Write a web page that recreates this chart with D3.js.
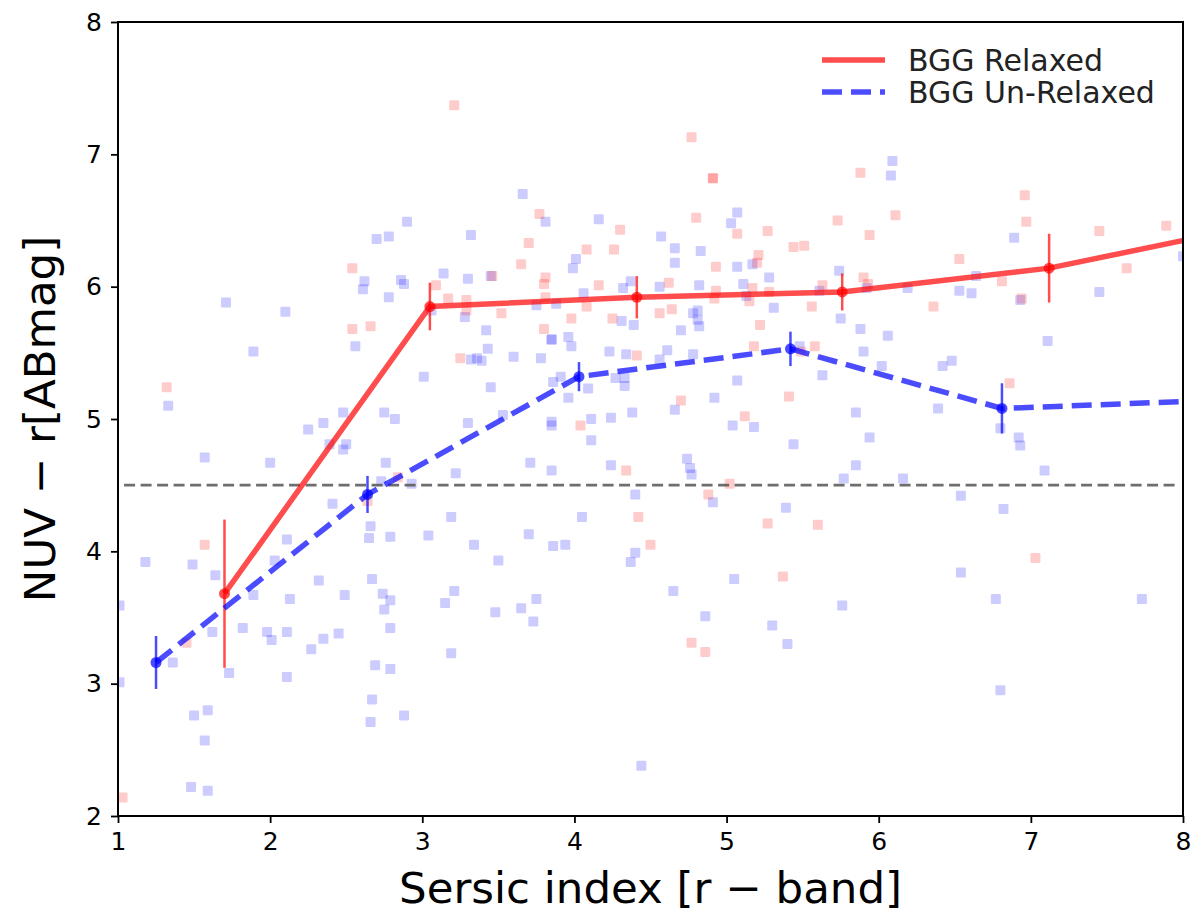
<!DOCTYPE html>
<html>
<head>
<meta charset="utf-8">
<script src="https://cdn.jsdelivr.net/npm/d3@7"></script>
<style>
  html, body { margin: 0; padding: 0; background: #fff; }
  svg { display: block; font-family: "DejaVu Sans", sans-serif; }
</style>
</head>
<body>
<svg id="chart" width="1195" height="917"></svg>
<script>
// --- data ---

// binned medians (Sersic index, NUV-r, error)
const relaxedX = [1.70, 3.05, 4.41, 5.76, 7.12, 8.47];
const relaxedY = [3.68, 5.85, 5.92, 5.96, 6.14, 6.46];
const relaxedErr = [0.56, 0.18, 0.16, 0.14, 0.26, 0.30];

const unrelaxedX = [1.25, 2.64, 4.03, 5.42, 6.81, 8.20];
const unrelaxedY = [3.16, 4.43, 5.32, 5.53, 5.08, 5.14];
const unrelaxedErr = [0.20, 0.14, 0.11, 0.13, 0.19, 0.20];

// individual galaxies [n, NUV-r]
const relaxedPts = [
  [2.54, 6.14], [2.54, 5.68], [2.66, 5.70], [3.21, 7.37], [3.77, 6.55], [4.30, 6.43],
  [3.70, 6.33], [4.08, 6.28], [4.26, 6.28], [3.65, 6.17], [3.46, 6.08], [3.81, 6.07],
  [3.80, 6.02], [3.09, 6.01], [4.16, 6.01], [3.17, 5.91], [3.29, 5.90], [3.81, 5.92],
  [4.08, 5.85], [3.29, 5.82], [3.52, 5.80], [3.98, 5.76], [4.25, 5.76], [4.56, 5.80],
  [3.80, 5.68], [4.77, 7.13], [4.91, 6.82], [4.91, 6.82], [5.88, 6.86], [4.80, 6.52],
  [5.73, 6.50], [6.11, 6.54], [5.07, 6.40], [5.27, 6.42], [5.94, 6.39], [5.44, 6.30],
  [5.51, 6.31], [5.21, 6.24], [5.20, 6.18], [4.93, 6.15], [4.62, 6.03], [4.93, 5.97],
  [5.17, 5.99], [5.28, 5.96], [4.92, 5.91], [5.15, 5.89], [5.63, 6.01], [5.90, 6.07],
  [5.93, 6.02], [4.64, 5.83], [5.56, 5.85], [5.22, 5.71], [6.36, 5.85], [6.96, 6.69],
  [6.97, 6.49], [7.45, 6.42], [7.89, 6.46], [6.53, 6.21], [6.81, 6.04], [7.63, 6.14],
  [6.94, 5.91], [1.32, 5.24], [2.64, 4.38], [1.57, 4.05], [1.45, 3.31], [1.03, 2.14],
  [3.25, 5.46], [4.41, 5.48], [4.04, 4.95], [4.34, 4.61], [2.84, 4.56], [4.42, 4.26],
  [4.50, 4.05], [5.18, 5.55], [5.58, 5.55], [5.49, 5.51], [4.70, 5.14], [5.41, 5.17],
  [5.12, 5.02], [5.02, 4.51], [4.88, 4.43], [5.27, 4.21], [5.60, 4.20], [5.37, 3.81],
  [4.77, 3.31], [4.86, 3.24], [6.86, 5.27], [7.03, 3.95]
];

const unrelaxedPts = [
  [1.71, 5.88], [2.10, 5.81], [2.70, 6.36], [2.78, 6.38], [2.62, 6.04], [2.61, 5.98],
  [2.78, 5.92], [3.66, 6.70], [3.81, 6.49], [4.16, 6.51], [2.90, 6.49], [3.32, 6.39],
  [4.01, 6.21], [3.99, 6.14], [3.14, 6.10], [3.30, 6.06], [3.45, 6.08], [2.86, 6.05],
  [2.88, 6.02], [4.37, 6.04], [4.32, 5.99], [4.56, 6.00], [4.06, 5.95], [3.75, 5.86],
  [3.88, 5.87], [3.06, 5.82], [3.28, 5.77], [4.31, 5.74], [4.39, 5.71], [3.42, 5.67],
  [3.85, 5.60], [3.96, 5.62], [6.09, 6.95], [6.08, 6.84], [5.07, 6.56], [5.03, 6.48],
  [4.57, 6.38], [4.66, 6.29], [4.83, 6.27], [4.66, 6.18], [5.17, 6.17], [5.07, 6.15],
  [5.74, 6.12], [5.28, 6.07], [4.82, 6.01], [5.11, 6.02], [5.13, 5.93], [5.61, 5.97],
  [5.92, 5.99], [6.19, 5.99], [4.81, 5.82], [4.78, 5.80], [4.81, 5.75], [4.82, 5.70],
  [5.31, 5.84], [5.75, 5.76], [4.70, 5.67], [5.88, 5.68], [6.06, 5.63], [6.89, 6.37],
  [6.64, 6.08], [6.53, 5.97], [6.61, 5.95], [7.45, 5.96], [6.93, 5.90], [7.11, 5.59],
  [8.00, 6.23], [1.89, 5.51], [1.33, 5.10], [2.56, 5.55], [1.57, 4.71], [2.00, 4.67],
  [2.25, 4.92], [2.35, 4.97], [2.48, 5.05], [2.39, 4.81], [2.50, 4.81], [2.48, 4.77],
  [2.75, 5.05], [2.76, 4.67], [2.41, 4.36], [2.66, 4.19], [2.65, 4.10], [2.79, 4.11],
  [2.11, 4.09], [1.18, 3.92], [1.49, 3.90], [1.64, 3.82], [2.03, 3.93], [2.32, 3.78],
  [2.67, 3.79], [2.73, 4.53], [1.89, 3.67], [2.13, 3.64], [2.49, 3.67], [2.74, 3.68],
  [2.75, 3.56], [2.79, 3.63], [2.79, 3.42], [1.01, 3.59], [1.62, 3.39], [1.82, 3.42],
  [1.98, 3.39], [2.01, 3.33], [2.11, 3.39], [2.27, 3.26], [2.35, 3.34], [2.45, 3.38],
  [1.36, 3.16], [1.73, 3.08], [2.11, 3.05], [2.69, 3.14], [2.79, 3.11], [1.01, 3.01],
  [1.50, 2.76], [1.59, 2.80], [1.57, 2.57], [2.67, 2.88], [2.66, 2.71], [1.48, 2.22],
  [1.59, 2.19], [3.21, 3.70], [3.15, 3.61], [3.48, 3.54], [3.65, 3.57], [3.75, 3.64],
  [3.73, 3.47], [3.19, 3.23], [2.88, 2.76], [4.44, 2.38], [3.85, 5.60], [3.98, 5.55],
  [3.32, 5.45], [3.36, 5.46], [3.39, 5.44], [3.43, 5.53], [3.60, 5.47], [3.78, 5.46],
  [4.23, 5.51], [4.34, 5.49], [4.56, 5.45], [3.01, 5.32], [3.45, 5.24], [3.86, 5.28],
  [3.91, 5.32], [3.96, 5.16], [4.09, 5.23], [4.27, 5.31], [4.33, 5.31], [4.33, 5.25],
  [2.82, 5.00], [3.30, 4.97], [3.53, 5.03], [3.85, 4.98], [3.85, 4.95], [4.11, 5.00],
  [4.24, 5.01], [4.38, 5.05], [4.11, 4.84], [3.22, 4.59], [3.71, 4.67], [3.85, 4.61],
  [4.24, 4.65], [2.93, 4.51], [4.40, 4.43], [3.19, 4.26], [4.05, 4.26], [3.04, 4.12],
  [3.70, 4.13], [3.34, 4.05], [3.86, 4.04], [3.94, 4.05], [4.40, 3.99], [4.37, 3.92],
  [3.50, 3.93], [4.61, 5.52], [4.78, 5.49], [5.48, 5.55], [5.90, 5.51], [6.02, 5.40],
  [5.07, 5.29], [5.63, 5.33], [4.66, 5.07], [4.92, 5.16], [5.04, 4.95], [5.18, 4.94],
  [5.85, 5.05], [5.94, 4.86], [5.44, 4.81], [4.74, 4.70], [4.76, 4.63], [4.77, 4.58],
  [5.85, 4.65], [5.77, 4.55], [6.16, 4.55], [4.91, 4.37], [5.39, 4.33], [5.05, 3.79],
  [4.65, 3.70], [5.76, 3.59], [4.86, 3.51], [5.30, 3.44], [5.40, 3.30], [6.42, 5.40],
  [6.48, 5.44], [6.39, 5.08], [6.80, 4.93], [6.92, 4.86], [6.93, 4.80], [7.09, 4.61],
  [6.54, 4.42], [6.82, 4.32], [6.54, 3.84], [6.77, 3.64], [7.73, 3.64], [6.80, 2.95]
];

const threshold = 4.5;
const xTicks = [1, 2, 3, 4, 5, 6, 7, 8];
const yTicks = [2, 3, 4, 5, 6, 7, 8];
const legendLabels = ['BGG Relaxed', 'BGG Un-Relaxed'];

// --- layout ---
const W = 1195, H = 917;
const M = { left: 118, top: 22, right: 12, bottom: 101 };
const PW = W - M.left - M.right;
const PH = H - M.top - M.bottom;

const RED = 'rgba(255,0,0,0.7)';
const BLUE = 'rgba(0,0,255,0.7)';

const svg = d3.select('#chart');
const x = d3.scaleLinear().domain([1, 8]).range([0, PW]);
const y = d3.scaleLinear().domain([2, 8]).range([PH, 0]);

svg.append('defs').append('clipPath').attr('id', 'plot-clip')
  .append('rect').attr('width', PW).attr('height', PH);

const g = svg.append('g').attr('transform', `translate(${M.left},${M.top})`);
const plot = g.append('g').attr('clip-path', 'url(#plot-clip)');

// scatter squares
const SQ = 10;
plot.selectAll('.pt-u').data(unrelaxedPts).enter().append('rect')
  .attr('class', 'pt-u')
  .attr('x', d => x(d[0]) - SQ / 2).attr('y', d => y(d[1]) - SQ / 2)
  .attr('width', SQ).attr('height', SQ).attr('rx', 1.2)
  .attr('fill', 'rgba(0,0,255,0.2)');

plot.selectAll('.pt-r').data(relaxedPts).enter().append('rect')
  .attr('class', 'pt-r')
  .attr('x', d => x(d[0]) - SQ / 2).attr('y', d => y(d[1]) - SQ / 2)
  .attr('width', SQ).attr('height', SQ).attr('rx', 1.2)
  .attr('fill', 'rgba(255,0,0,0.2)');

// threshold
plot.append('line')
  .attr('x1', x(1.04)).attr('x2', x(7.96))
  .attr('y1', y(threshold)).attr('y2', y(threshold))
  .attr('stroke', '#555').attr('stroke-opacity', 0.85)
  .attr('stroke-width', 2.6).attr('stroke-dasharray', '11,5.5');

const line = d3.line().x(d => x(d[0])).y(d => y(d[1]));

function series(xs, ys, errs, color, dash) {
  const pts = xs.map((v, i) => [v, ys[i], errs[i]]);
  const sg = plot.append('g');
  sg.append('path').datum(pts)
    .attr('d', line)
    .attr('fill', 'none').attr('stroke', color)
    .attr('stroke-width', 5.5)
    .attr('stroke-dasharray', dash || null);
  sg.selectAll('.err').data(pts).enter().append('line')
    .attr('x1', d => x(d[0])).attr('x2', d => x(d[0]))
    .attr('y1', d => y(d[1] - d[2])).attr('y2', d => y(d[1] + d[2]))
    .attr('stroke', color).attr('stroke-width', 2.5);
  sg.selectAll('.dot').data(pts).enter().append('circle')
    .attr('cx', d => x(d[0])).attr('cy', d => y(d[1]))
    .attr('r', 5.5).attr('fill', color);
}

series(relaxedX, relaxedY, relaxedErr, RED, null);
series(unrelaxedX, unrelaxedY, unrelaxedErr, BLUE, '20,9');

// axes
const xAxis = g.append('g').attr('transform', `translate(0,${PH})`)
  .call(d3.axisBottom(x).tickValues(xTicks).tickFormat(d3.format('d'))
    .tickSize(7).tickPadding(9));
const yAxis = g.append('g')
  .call(d3.axisLeft(y).tickValues(yTicks).tickFormat(d3.format('d'))
    .tickSize(7).tickPadding(9));
[xAxis, yAxis].forEach(a => {
  a.select('.domain').remove();
  a.selectAll('line').attr('stroke', '#000').attr('stroke-width', 1.8);
  a.selectAll('text').attr('fill', '#000')
    .style('font-size', '25px').style('font-family', '"DejaVu Sans", sans-serif');
});

// frame
g.append('rect').attr('width', PW).attr('height', PH)
  .attr('fill', 'none').attr('stroke', '#000').attr('stroke-width', 2);

// labels
svg.append('text')
  .attr('x', M.left + PW / 2).attr('y', 903)
  .attr('text-anchor', 'middle').style('font-size', '43.5px')
  .text('Sersic index [r \u2212 band]');
svg.append('text')
  .attr('transform', `translate(55,${M.top + PH / 2}) rotate(-90)`)
  .attr('text-anchor', 'middle').style('font-size', '43.5px')
  .text('NUV \u2212 r[ABmag]');

// legend
const leg = svg.append('g');
[[RED, null], [BLUE, '20,9']].forEach((s, i) => {
  const ly = 60 + i * 32;
  leg.append('line')
    .attr('x1', 822).attr('x2', 885).attr('y1', ly).attr('y2', ly)
    .attr('stroke', s[0]).attr('stroke-width', 5.5)
    .attr('stroke-dasharray', s[1]);
  leg.append('text')
    .attr('x', 908).attr('y', ly).attr('dy', '0.35em')
    .style('font-size', '30px').attr('fill', '#222')
    .text(legendLabels[i]);
});
</script>
</body>
</html>
